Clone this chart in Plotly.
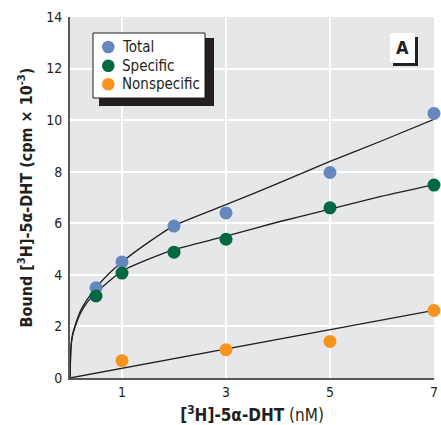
import plotly.graph_objects as go

# Measured data
conc = [0.5, 1, 2, 3, 5, 7]
total = [3.50, 4.50, 5.89, 6.40, 7.97, 10.26]
specific = [3.18, 4.07, 4.88, 5.38, 6.60, 7.48]
ns_conc = [1, 3, 5, 7]
nonspecific = [0.67, 1.10, 1.42, 2.62]

# Fitted curves
fit_x = [0, 0.02, 0.05, 0.1, 0.2, 0.3, 0.5, 0.75, 1, 1.5, 2, 3, 4, 5, 6, 7]
fit_total = [0, 1.25, 1.70, 2.05, 2.60, 2.95, 3.50, 4.05, 4.50, 5.25, 5.90, 6.72, 7.55, 8.40, 9.20, 10.03]
fit_specific = [0, 1.20, 1.65, 2.00, 2.50, 2.85, 3.30, 3.75, 4.15, 4.60, 4.98, 5.50, 6.05, 6.55, 7.05, 7.50]
fit_ns_x = [0, 7]
fit_ns = [0, 2.62]

x_ticks = [1, 3, 5, 7]
y_ticks = [0, 2, 4, 6, 8, 10, 12, 14]

series_names = ["Total", "Specific", "Nonspecific"]
series_colors = ["#6488bd", "#00693f", "#f7941e"]

FONT = "DejaVu Sans Condensed, Liberation Sans Narrow, sans-serif"
TXT = "#231f20"

# plot-area geometry in pixels (for paper-coordinate helpers)
L, R, T, B = 70, 434, 17, 378
def px(x):
    return (x - L) / (R - L)
def py(y):
    return (B - y) / (B - T)

fig = go.Figure()

for fy in (fit_total, fit_specific):
    fig.add_trace(go.Scatter(x=fit_x, y=fy, mode="lines",
                             line=dict(color=TXT, width=1.3, shape="spline", smoothing=0.6),
                             showlegend=False, hoverinfo="skip"))
fig.add_trace(go.Scatter(x=fit_ns_x, y=fit_ns, mode="lines", line=dict(color=TXT, width=1.3),
                         showlegend=False, hoverinfo="skip"))

mk = dict(size=13, line=dict(width=0))
for name, xs, ys, col in zip(series_names, [conc, conc, ns_conc], [total, specific, nonspecific], series_colors):
    fig.add_trace(go.Scatter(x=xs, y=ys, mode="markers", name=name,
                             marker=dict(color=col, **mk), cliponaxis=False, showlegend=False))

shapes = [
    # legend shadow + box
    dict(type="rect", xref="paper", yref="paper", x0=px(99), x1=px(214), y0=py(106), y1=py(38),
         fillcolor=TXT, line=dict(width=0), layer="above"),
    dict(type="rect", xref="paper", yref="paper", x0=px(93), x1=px(205), y0=py(98), y1=py(33),
         fillcolor="white", line=dict(width=1, color=TXT), layer="above"),
    # "A" box shadow
    dict(type="rect", xref="paper", yref="paper", x0=px(393), x1=px(418), y0=py(66), y1=py(37),
         fillcolor=TXT, line=dict(width=0), layer="above"),
    dict(type="rect", xref="paper", yref="paper", x0=px(390), x1=px(415), y0=py(63), y1=py(33),
         fillcolor="white", line=dict(width=0), layer="above"),
]
annotations = [
    dict(text="<b>A</b>", xref="paper", yref="paper", x=px(402.5), y=py(48),
         xanchor="center", yanchor="middle", showarrow=False,
         font=dict(family=FONT, size=18, color=TXT)),
]
leg_y = [47, 65.7, 84.3]
for name, col, yy in zip(series_names, series_colors, leg_y):
    r = 6.3
    shapes.append(dict(type="circle", xref="paper", yref="paper",
                       x0=px(108.3 - r), x1=px(108.3 + r), y0=py(yy + r), y1=py(yy - r),
                       fillcolor=col, line=dict(width=0), layer="above"))
    annotations.append(dict(text=name, xref="paper", yref="paper", x=px(120), y=py(yy),
                            xanchor="left", yanchor="middle", showarrow=False,
                            font=dict(family=FONT, size=15, color=TXT)))

fig.update_layout(
    width=441, height=425,
    margin=dict(l=L, r=441 - R, t=T, b=425 - B),
    paper_bgcolor="white",
    plot_bgcolor="#e6e7e8",
    font=dict(family=FONT, color=TXT, size=14),
    shapes=shapes,
    annotations=annotations,
    showlegend=False,
    xaxis=dict(range=[0, 7], tickvals=x_ticks, ticktext=[str(v) for v in x_ticks],
               showgrid=True, gridcolor="white", gridwidth=1.5, zeroline=False, automargin=False,
               showline=True, linecolor="#58595b", linewidth=2, ticks="", ticklabelstandoff=0,
               tickfont=dict(size=14),
               title=dict(text="<b>[<sup>3</sup>H]-5α-DHT</b> (nM)", font=dict(size=17), standoff=18)),
    yaxis=dict(range=[0, 14], tickvals=y_ticks, ticktext=[str(v) for v in y_ticks],
               showgrid=True, gridcolor="white", gridwidth=1.5, zeroline=False, automargin=False,
               showline=True, linecolor="#58595b", linewidth=2, ticks="", ticklabelstandoff=3,
               tickfont=dict(size=14),
               title=dict(text="<b>Bound [<sup>3</sup>H]-5α-DHT (cpm × 10<sup>-3</sup>)</b>", font=dict(size=16), standoff=10)),
)

fig.write_html("out.html")
